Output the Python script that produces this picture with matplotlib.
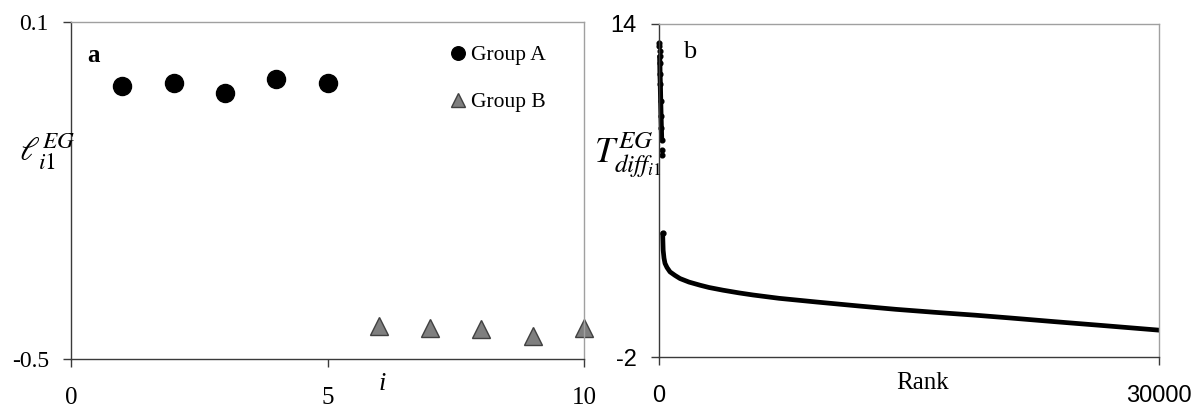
import matplotlib
matplotlib.use("Agg")
import matplotlib.pyplot as plt

plt.rcParams['mathtext.fontset'] = 'stix'
SERIF = ['Liberation Serif', 'DejaVu Serif']
SANS = ['Liberation Sans', 'DejaVu Sans']

# ---- panel a data ----
group_a_x = [1, 2, 3, 4, 5]
group_a_y = [-0.014, -0.009, -0.026, -0.001, -0.009]
group_b_x = [6, 7, 8, 9, 10]
group_b_y = [-0.441, -0.445, -0.447, -0.459, -0.444]
a_xticks = [0, 5, 10]
a_yticks = [-0.5, 0.1]
a_yticklabels = ['-0.5', '0.1']

# ---- panel b data ----
upper_rank = [10, 20, 30, 40, 50, 60, 80, 100, 120, 140, 160, 180, 200]
upper_val = [13.11, 12.92, 12.68, 12.44, 12.12, 11.6, 11.1, 10.3, 9.6, 9.0, 8.43, 7.95, 7.71]
lower_rank = [220, 250, 300, 360, 480, 660, 960, 1260, 1800, 2460, 3000, 3840,
              4800, 5640, 7200, 9480, 12000, 14220, 16500, 18960, 21000, 23700,
              26500, 30000]
lower_val = [3.94, 3.13, 2.75, 2.5, 2.3, 2.09, 1.92, 1.77, 1.6, 1.45, 1.34, 1.21,
             1.08, 0.98, 0.82, 0.64, 0.45, 0.29, 0.15, 0.01, -0.12, -0.30,
             -0.48, -0.71]
b_xticks = [0, 30000]
b_yticks = [-2, 14]

fig = plt.figure(figsize=(12, 4.12), dpi=100)
W, H = 1200, 412

def rect(l, r, t, b):
    return [l / W, 1 - b / H, (r - l) / W, (b - t) / H]

dark = '#3a3a3a'
light = '#a0a0a0'

def style(ax):
    for s in ['left', 'bottom']:
        ax.spines[s].set_color(dark)
        ax.spines[s].set_linewidth(1.0)
    for s in ['top', 'right']:
        ax.spines[s].set_color(light)
        ax.spines[s].set_linewidth(1.0)
    ax.tick_params(direction='out', length=6, width=1, color=dark)

# ---------- panel a ----------
ax1 = fig.add_axes(rect(71, 584, 22, 359))
style(ax1)
ax1.plot(group_a_x, group_a_y, 'o', color='black', markersize=13, label='Group A',
         linestyle='none')
ax1.plot(group_b_x, group_b_y, '^', color='#7f7f7f', markeredgecolor='#404040',
         markeredgewidth=1.0, markersize=13, label='Group B', linestyle='none',
         clip_on=False)
ax1.set_xlim(0, 10)
ax1.set_ylim(-0.5, 0.1)
ax1.set_xticks(a_xticks)
ax1.set_xticklabels([str(v) for v in a_xticks], fontfamily=SERIF, fontsize=18)
ax1.set_yticks(a_yticks)
ax1.set_yticklabels(a_yticklabels, fontfamily=SERIF, fontsize=17)
ax1.tick_params(axis='x', pad=14)
ax1.tick_params(axis='y', pad=10)
leg = ax1.legend(loc='upper left', bbox_to_anchor=((452 - 71) / 513, 1 - (45 - 22) / 337),
                 frameon=False, prop={'family': SERIF, 'size': 15.5},
                 markerscale=0.75, handlelength=0.6, handletextpad=0.3,
                 labelspacing=1.25, borderaxespad=0, borderpad=0)
fig.text(93 / W, 1 - 56 / H, 'a', ha='center', va='center',
         fontfamily=SERIF, fontsize=18, fontweight='bold')
fig.text(47 / W, 1 - 152 / H, r'$\ell^{EG}_{i1}$', ha='center', va='center', fontsize=24)
fig.text(382 / W, 1 - 384 / H, 'i', ha='center', va='center', fontfamily=SERIF,
         fontsize=19, fontstyle='italic')

# ---------- panel b ----------
ax2 = fig.add_axes(rect(659, 1159, 24, 357))
style(ax2)
ax2.plot(upper_rank, upper_val, 'o', color='black', markersize=3.4, linestyle='none',
         clip_on=False)
ax2.plot(upper_rank[3:11], upper_val[3:11], '-', color='black', linewidth=3.6,
         solid_capstyle='round', clip_on=False)
ax2.plot(lower_rank[:1], lower_val[:1], 'o', color='black', markersize=3.5)
ax2.plot(lower_rank, lower_val, '-', color='black', linewidth=3.4,
         solid_capstyle='round', solid_joinstyle='round')
ax2.set_xlim(0, 30000)
ax2.set_ylim(-2, 14)
ax2.set_xticks(b_xticks)
ax2.set_xticklabels([str(v) for v in b_xticks], fontfamily=SANS, fontsize=17)
ax2.set_yticks(b_yticks)
ax2.set_yticklabels([str(v) for v in b_yticks], fontfamily=SANS, fontsize=17)
ax2.tick_params(axis='x', pad=14)
ax2.tick_params(axis='y', pad=10)
fig.text(690 / W, 1 - 52 / H, 'b', ha='center', va='center', fontfamily=SERIF, fontsize=19)
fig.text(628 / W, 1 - 155 / H, r'$T^{EG}_{diff_{i1}}$', ha='center', va='center',
         fontsize=26)
fig.text(923 / W, 1 - 383 / H, 'Rank', ha='center', va='center', fontfamily=SERIF,
         fontsize=18)

fig.savefig('out.png', dpi=100, facecolor='white')
